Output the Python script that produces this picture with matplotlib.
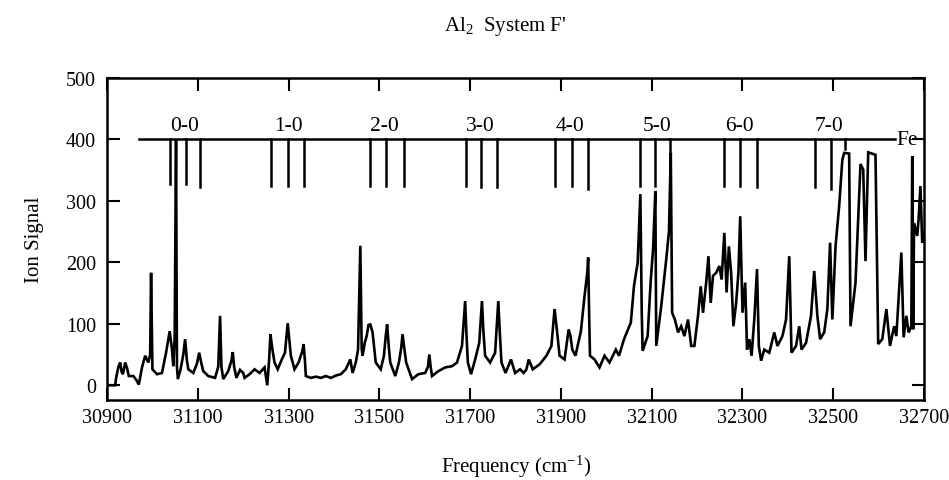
import matplotlib
matplotlib.use("Agg")
import matplotlib.pyplot as plt

plt.rcParams['font.family'] = ['Liberation Serif', 'DejaVu Serif']
plt.rcParams['mathtext.fontset'] = 'custom'
plt.rcParams['mathtext.rm'] = 'Liberation Serif'
plt.rcParams['mathtext.it'] = 'Liberation Serif:italic'

freq = [30900, 30918, 30920, 30925, 30929, 30932, 30935, 30940, 30944, 30948, 30958, 30965, 30970, 30977,
        30984, 30991, 30995, 30997, 31000, 31010, 31021, 31030, 31038, 31043, 31046, 31049, 31052, 31054,
        31056, 31062, 31068, 31072, 31076, 31079, 31090, 31098, 31103, 31108, 31112, 31123, 31138, 31145,
        31149, 31152, 31156, 31167, 31174, 31177, 31180, 31185, 31193, 31200, 31203, 31214, 31225, 31236,
        31247, 31253, 31257, 31260, 31264, 31269, 31276, 31285, 31292, 31298, 31302, 31305, 31313, 31322,
        31330, 31333, 31336, 31338, 31349, 31360, 31371, 31382, 31393, 31405, 31415, 31426, 31436, 31441,
        31448, 31453, 31458, 31461, 31463, 31468, 31472, 31476, 31480, 31485, 31490, 31492, 31503, 31510,
        31514, 31517, 31521, 31524, 31535, 31543, 31548, 31551, 31555, 31559, 31572, 31586, 31601, 31607,
        31610, 31613, 31616, 31630, 31645, 31660, 31671, 31682, 31689, 31692, 31695, 31702, 31711, 31720,
        31726, 31729, 31733, 31744, 31755, 31762, 31765, 31769, 31778, 31790, 31799, 31810, 31818, 31824,
        31829, 31838, 31853, 31868, 31879, 31886, 31891, 31897, 31908, 31917, 31921, 31925, 31932, 31944,
        31952, 31958, 31960, 31962, 31964, 31974, 31985, 31996, 32007, 32021, 32028, 32039, 32054, 32061,
        32069, 32075, 32078, 32080, 32091, 32098, 32103, 32108, 32110, 32121, 32132, 32138, 32142, 32145,
        32151, 32158, 32165, 32172, 32180, 32187, 32194, 32202, 32208, 32213, 32220, 32225, 32230, 32235,
        32242, 32249, 32254, 32260, 32265, 32270, 32275, 32280, 32286, 32291, 32295, 32300, 32306, 32310,
        32315, 32320, 32326, 32332, 32336, 32341, 32348, 32359, 32370, 32377, 32388, 32396, 32403, 32408,
        32418, 32425, 32430, 32440, 32451, 32458, 32465, 32471, 32480, 32487, 32493, 32498, 32505, 32513,
        32520, 32524, 32535, 32538, 32549, 32560, 32566, 32571, 32577, 32593, 32599, 32608, 32617, 32625,
        32634, 32639, 32650, 32655, 32661, 32666, 32672, 32674, 32676, 32678, 32685, 32688, 32692, 32696,
        32700]
signal = [0, 0, 12, 30, 37, 22, 18, 37, 28, 15, 15, 8, 1, 29,
          48, 37, 50, 183, 26, 18, 20, 53, 88, 58, 31, 80, 400, 30,
          10, 26, 50, 75, 40, 26, 20, 35, 53, 35, 23, 15, 12, 30,
          113, 30, 10, 23, 40, 54, 30, 12, 25, 20, 12, 18, 26, 20,
          29, 0, 40, 83, 60, 37, 26, 42, 53, 101, 70, 48, 26, 37,
          55, 67, 40, 15, 12, 14, 12, 15, 12, 16, 18, 26, 42, 20,
          37, 58, 227, 60, 48, 70, 80, 98, 99, 86, 50, 37, 26, 48,
          80, 99, 60, 37, 15, 37, 60, 83, 60, 37, 10, 18, 20, 30,
          50, 30, 15, 23, 29, 31, 37, 64, 137, 80, 37, 18, 42, 69,
          137, 90, 48, 37, 53, 137, 90, 37, 20, 42, 20, 26, 20, 26,
          42, 26, 34, 48, 64, 124, 91, 48, 42, 91, 80, 58, 48, 88,
          145, 183, 208, 120, 48, 42, 29, 48, 37, 58, 48, 75, 102, 162,
          199, 311, 120, 56, 80, 172, 221, 316, 64, 129, 205, 250, 378, 118,
          107, 86, 96, 80, 107, 64, 64, 113, 161, 118, 167, 210, 134, 178,
          183, 194, 172, 248, 151, 226, 183, 96, 134, 183, 275, 118, 167, 58,
          75, 48, 107, 189, 64, 40, 58, 53, 86, 64, 80, 107, 210, 53,
          64, 96, 58, 69, 113, 186, 113, 75, 86, 124, 232, 107, 226, 292,
          367, 378, 377, 96, 167, 360, 351, 202, 379, 375, 67, 75, 124, 64,
          96, 80, 216, 78, 113, 86, 96, 373, 91, 264, 243, 270, 324, 232,
          250]

band_labels = ["0-0", "1-0", "2-0", "3-0", "4-0", "5-0", "6-0", "7-0"]
band_label_pos = [31071, 31299, 31510, 31723, 31921, 32112, 32294, 32491]
comb_pos = [[31038, 31073, 31104], [31262, 31299, 31333], [31480, 31515, 31554],
            [31690, 31723, 31760], [31888, 31925, 31960], [32075, 32107, 32141],
            [32259, 32294, 32331], [32459, 32494, 32525]]
comb_end = [[327, 327, 323], [325, 325, 325], [325, 325, 325],
            [325, 323, 323], [325, 325, 319], [325, 325, 325],
            [325, 325, 323], [323, 320, 385]]
comb_level = 400
comb_start, comb_stop = 30970, 32636
xticks = [30900, 31100, 31300, 31500, 31700, 31900, 32100, 32300, 32500, 32700]
yticks = [0, 100, 200, 300, 400, 500]

fig = plt.figure(figsize=(9.49, 4.81), dpi=100)
ax = fig.add_axes([0.1128, 0.1663, 0.8609, 0.6695])

ax.plot(freq, signal, color='black', lw=1.9, solid_joinstyle='miter')

# assignment comb
ax.plot([comb_start, comb_stop], [comb_level, comb_level], color='black', lw=1.8)
for lab, lp, cps, ces in zip(band_labels, band_label_pos, comb_pos, comb_end):
    for cp, ce in zip(cps, ces):
        ax.plot([cp, cp], [comb_level, ce], color='black', lw=1.8)
    ax.text(lp, 423, lab, ha='center', va='center', fontsize=15.5)
ax.text(comb_stop + 4, comb_level, "Fe", ha='left', va='center', fontsize=15.5)

ax.set_xlim(30900, 32700)
ax.set_ylim(-24, 500)
ax.set_xticks(xticks)
ax.set_yticks(yticks)
ax.tick_params(direction='in', length=9, width=1.5, labelsize=14.5,
               top=True, right=True)
ax.tick_params(axis='y', pad=8)
ax.tick_params(axis='x', pad=6)
for s in ax.spines.values():
    s.set_linewidth(1.8)

ax.set_ylabel("Ion Signal", fontsize=15, labelpad=16)
ax.set_xlabel(r"Frequency (cm$^{\mathrm{-1}}$)", fontsize=15, labelpad=18)
fig.text(0.532, 0.945, r"Al$_{\mathrm{2}}$  System F'", ha='center', va='center', fontsize=15)

fig.savefig("out.png", dpi=100)
